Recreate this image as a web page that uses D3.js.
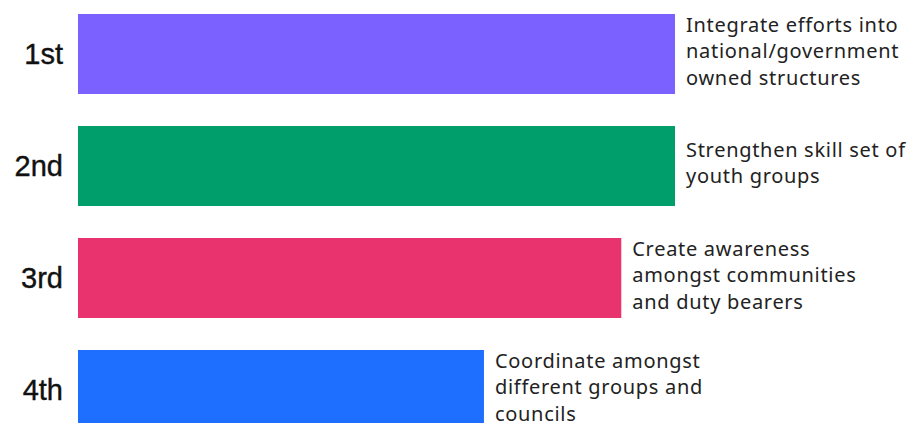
<!DOCTYPE html>
<html>
<head>
<meta charset="utf-8">
<script src="https://cdn.jsdelivr.net/npm/d3@7"></script>
<style>
  html, body { margin: 0; padding: 0; background: #fff; }
</style>
</head>
<body>
<svg id="chart"></svg>
<script>
// data
const ranks = ['1st', '2nd', '3rd', '4th']
const scores = [100, 100, 91, 68]
const actions = [
  ['Integrate efforts into', 'national/government', 'owned structures'],
  ['Strengthen skill set of', 'youth groups'],
  ['Create awareness', 'amongst communities', 'and duty bearers'],
  ['Coordinate amongst', 'different groups and', 'councils'],
]
const colors = ['#7b61ff', '#009e6b', '#e8336f', '#1e6eff']

const width = 918
const height = 423
const margin = { top: 14, left: 78 }

const svg = d3.select('#chart').attr('width', width).attr('height', height)

// scales
const x = d3.scaleLinear().domain([0, 100]).range([margin.left, 675])
const y = d3
  .scaleBand()
  .domain(ranks)
  .range([margin.top, 430])
  .paddingInner(32 / 112)
  .paddingOuter(0)

const rows = ranks.map((r, i) => ({
  rank: r,
  value: scores[i],
  lines: actions[i],
  color: colors[i],
}))

// bars
svg
  .append('g')
  .attr('id', 'bars')
  .selectAll('rect')
  .data(rows)
  .join('rect')
  .attr('x', x(0))
  .attr('y', (d) => y(d.rank))
  .attr('width', (d) => x(d.value) - x(0))
  .attr('height', y.bandwidth())
  .attr('fill', (d) => d.color)

// rank labels
svg
  .append('g')
  .attr('id', 'ranks')
  .selectAll('text')
  .data(rows)
  .join('text')
  .attr('x', 63)
  .attr('y', (d) => y(d.rank) + y.bandwidth() / 2)
  .attr('dy', '0.36em')
  .attr('text-anchor', 'end')
  .style('font-family', '"Liberation Sans", Arial, sans-serif')
  .style('font-size', '29px')
  .style('fill', '#111')
  .style('stroke', '#111')
  .style('stroke-width', 0.4)
  .text((d) => d.rank)

// action labels
const lineHeight = 26.5
const labels = svg
  .append('g')
  .attr('id', 'labels')
  .selectAll('text')
  .data(rows)
  .join('text')
  .attr('x', (d) => x(d.value) + 11)
  .attr(
    'y',
    (d) =>
      y(d.rank) + y.bandwidth() / 2 - 3 - ((d.lines.length - 1) * lineHeight) / 2
  )
  .style('font-family', '"Noto Sans", sans-serif')
  .style('font-size', '20px')
  .style('letter-spacing', '0.7px')
  .style('fill', '#222')

labels
  .selectAll('tspan')
  .data((d) => d.lines.map((t, i) => ({ t, i, x: x(d.value) + 11 })))
  .join('tspan')
  .attr('x', (d) => d.x)
  .attr('dy', (d) => (d.i === 0 ? '0.36em' : lineHeight))
  .text((d) => d.t)
</script>
</body>
</html>
